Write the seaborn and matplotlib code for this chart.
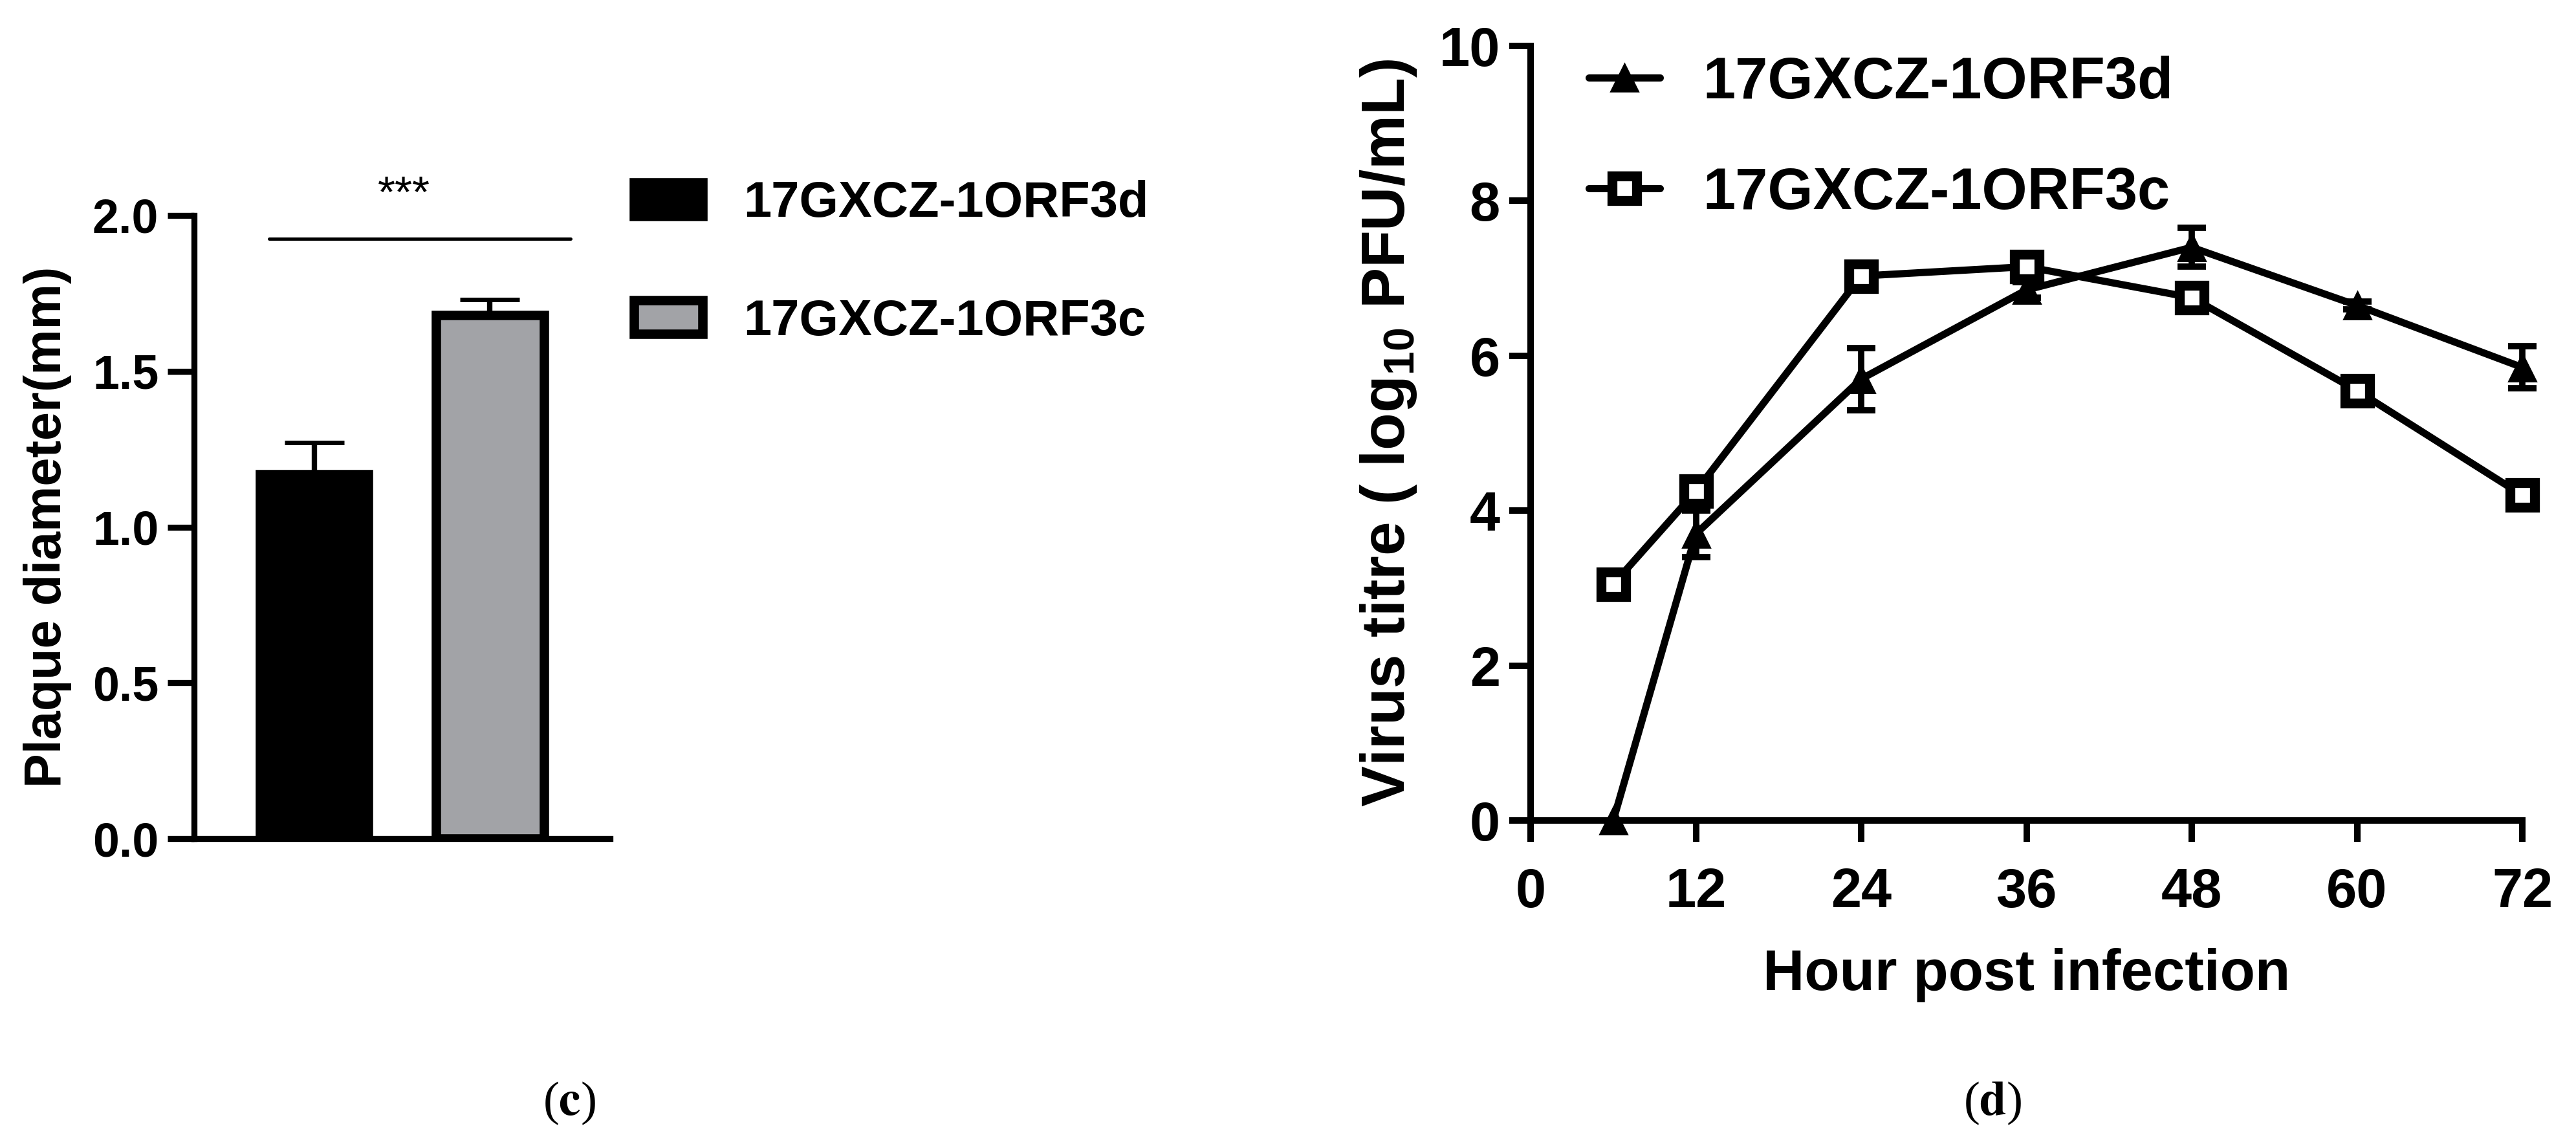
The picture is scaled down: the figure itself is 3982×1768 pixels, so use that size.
import matplotlib
matplotlib.use('Agg')
import matplotlib.pyplot as plt
import seaborn as sns
import pandas as pd
from matplotlib import font_manager

# --- DATA ---
strains = ['17GXCZ-1ORF3d', '17GXCZ-1ORF3c']
plaque_mean = [1.17, 1.68]
plaque_sd = [0.10, 0.05]

hours = [6, 12, 24, 36, 48, 60, 72]
orf3d_mean = [0.0, 3.7, 5.7, 6.85, 7.4, 6.65, 5.85]
orf3d_sd = [0.0, 0.3, 0.4, 0.1, 0.25, 0.05, 0.27]
orf3c_mean = [3.05, 4.25, 7.03, 7.15, 6.75, 5.55, 4.2]
orf3c_sd = [0.05, 0.1, 0.08, 0.15, 0.1, 0.08, 0.08]

bar_ticks = [0.0, 0.5, 1.0, 1.5, 2.0]
hour_ticks = [0, 12, 24, 36, 48, 60, 72]
titre_ticks = [0, 2, 4, 6, 8, 10]

BLACK = '#000000'
GREY = '#a2a3a7'

# --- STYLE ---
sns.set_style('ticks', {'axes.edgecolor': 'black', 'xtick.color': 'black',
                        'ytick.color': 'black', 'text.color': 'black',
                        'axes.labelcolor': 'black'})
names = {f.name for f in font_manager.fontManager.ttflist}
NARROW = 'Liberation Sans Narrow' if 'Liberation Sans Narrow' in names else 'Liberation Sans'
plt.rcParams['font.family'] = ['Liberation Sans', 'DejaVu Sans']
plt.rcParams['mathtext.fontset'] = 'custom'
plt.rcParams['mathtext.rm'] = 'Liberation Sans:bold'
plt.rcParams['mathtext.bf'] = 'Liberation Sans:bold'

W, H = 3982, 1768
fig = plt.figure(figsize=(W / 100, H / 100), dpi=100)
ax1 = fig.add_axes([300 / W, 1 - 1296 / H, 643 / W, 963 / H])
ax2 = fig.add_axes([2366 / W, 1 - 1268 / H, 1533 / W, 1197 / H])

# --- PANEL (c): plaque diameter ---
bar_df = pd.DataFrame({'strain': strains, 'diameter': plaque_mean})
sns.barplot(data=bar_df, x='strain', y='diameter', hue='strain',
            palette=[BLACK, GREY], saturation=1, width=0.615,
            edgecolor='black', linewidth=10.5, errorbar=None,
            legend=False, ax=ax1)
ax1.errorbar(x=[0, 1], y=plaque_mean, yerr=[[0, 0], plaque_sd], fmt='none',
             ecolor='black', elinewidth=6, capsize=33, capthick=5, zorder=3)

ax1.set_xlim(-0.685, 1.685)
ax1.set_ylim(0, 2)
ax1.set_xticks([])
ax1.set_xlabel('')
ax1.set_yticks(bar_ticks, labels=[f'{t:.1f}' for t in bar_ticks],
               fontsize=53, fontweight='bold')
ax1.tick_params(axis='y', length=29.5, width=6.7, pad=10)
ax1.set_ylabel('Plaque diameter(mm)', fontsize=57, fontweight='bold', va='center')
ax1.yaxis.set_label_coords(-0.353, 0.5)
sns.despine(ax=ax1)
for s in ['left', 'bottom']:
    ax1.spines[s].set_linewidth(6.7)

# significance bracket
ax1.plot([-0.256, 1.46], [1.925, 1.925], color='black', lw=3.6, clip_on=False)
ax1.text(0.51, 2.027, '***', ha='center', va='baseline', fontsize=50)

ax1.legend(handles=ax1.patches[:2], labels=strains, loc='upper left',
           bbox_to_anchor=(980 / W, 1 - 278 / H), bbox_transform=fig.transFigure,
           frameon=False, borderpad=0, borderaxespad=0,
           handlelength=1.36, handleheight=0.65, handletextpad=0.82,
           labelspacing=1.41, prop={'weight': 'bold', 'size': 56})

# --- PANEL (d): growth curve ---
ax2.errorbar(hours, orf3d_mean, yerr=orf3d_sd, fmt='none', ecolor='black',
             elinewidth=7, capsize=15.5, capthick=7, clip_on=False, zorder=2.6)
ax2.errorbar(hours, orf3c_mean, yerr=orf3c_sd, fmt='none', ecolor='black',
             elinewidth=7, capsize=15.5, capthick=7, clip_on=False, zorder=2.6)
sns.lineplot(x=hours, y=orf3d_mean, ax=ax2, color='black', lw=8,
             marker='^', markersize=30, markeredgewidth=2,
             markeredgecolor='black', clip_on=False, label=strains[0], zorder=3)
sns.lineplot(x=hours, y=orf3c_mean, ax=ax2, color='black', lw=8,
             marker='s', markersize=28, markerfacecolor='white',
             markeredgecolor='black', markeredgewidth=11, clip_on=False,
             label=strains[1], zorder=4)

ax2.set_xlim(0, 72)
ax2.set_ylim(0, 10)
ax2.set_xticks(hour_ticks, labels=[str(t) for t in hour_ticks],
               fontsize=61, fontweight='bold', fontfamily=NARROW)
ax2.set_yticks(titre_ticks, labels=[str(t) for t in titre_ticks],
               fontsize=61, fontweight='bold', fontfamily=NARROW)
ax2.tick_params(axis='both', length=24, width=7.2)
ax2.tick_params(axis='y', pad=10)
ax2.tick_params(axis='x', pad=28)
ax2.set_xlabel('Hour post infection', fontsize=64, fontweight='bold',
               fontfamily=NARROW, va='center')
ax2.xaxis.set_label_coords(0.5, -0.2)
ax2.set_ylabel(r'Virus titre ( log$_{\mathbf{10}}$ PFU/mL)', fontsize=68,
               fontweight='bold', va='center')
ax2.yaxis.set_label_coords(-0.143, 0.5)
sns.despine(ax=ax2)
for s in ['left', 'bottom']:
    ax2.spines[s].set_linewidth(7.2)

ax2.legend(loc='upper left', bbox_to_anchor=(2456 / W, 1 - 86 / H),
           bbox_transform=fig.transFigure, frameon=False, borderpad=0,
           borderaxespad=0, handlelength=1.22, handletextpad=0.73,
           labelspacing=0.95,
           prop={'family': NARROW, 'weight': 'bold', 'size': 65})

# --- PANEL CAPTIONS ---
fig.text(880 / W, 1 - 1705 / H, r'($\mathbf{c}$)', ha='center', va='center',
         fontsize=54, family='Liberation Serif', math_fontfamily='stix')
fig.text(3080 / W, 1 - 1705 / H, r'($\mathbf{d}$)', ha='center', va='center',
         fontsize=54, family='Liberation Serif', math_fontfamily='stix')

fig.savefig('out.png', dpi=100)
